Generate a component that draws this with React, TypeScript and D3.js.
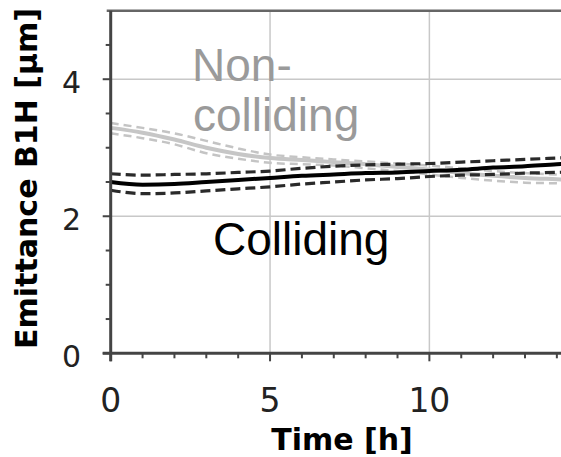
import React from "react";
import * as d3 from "d3";

// ---- data ----
const hours = [0, 1, 2, 3, 4, 5, 6, 7, 8, 9, 10, 11, 12, 13, 14, 14.5];

const collidingMean = [2.5, 2.46, 2.47, 2.5, 2.53, 2.56, 2.59, 2.61, 2.63, 2.64, 2.66, 2.68, 2.71, 2.73, 2.76, 2.77];
const collidingUpper = [2.62, 2.6, 2.61, 2.62, 2.64, 2.66, 2.7, 2.73, 2.75, 2.76, 2.77, 2.79, 2.81, 2.83, 2.85, 2.86];
const collidingLower = [2.38, 2.33, 2.34, 2.37, 2.4, 2.43, 2.47, 2.5, 2.53, 2.55, 2.58, 2.6, 2.61, 2.63, 2.64, 2.65];

const nonCollidingMean = [3.29, 3.22, 3.12, 3.0, 2.91, 2.85, 2.82, 2.79, 2.76, 2.72, 2.68, 2.63, 2.59, 2.56, 2.54, 2.53];
const nonCollidingUpper = [3.36, 3.29, 3.21, 3.1, 2.99, 2.9, 2.86, 2.83, 2.8, 2.77, 2.74, 2.7, 2.66, 2.63, 2.61, 2.6];
const nonCollidingLower = [3.21, 3.14, 3.05, 2.92, 2.84, 2.78, 2.76, 2.74, 2.7, 2.66, 2.61, 2.56, 2.52, 2.49, 2.48, 2.47];

const xTicks = [0, 5, 10];
const xMinorTicks = [1, 2, 3, 4, 6, 7, 8, 9, 11, 12, 13, 14];
const yTicks = [0, 2, 4];
const yMinorTicks = [0.5, 1, 1.5, 2.5, 3, 3.5, 4.5];

const W = 561;
const H = 457;

export default function App() {
  const x = d3.scaleLinear().domain([0, 14.13]).range([110.7, 561]);
  const y = d3.scaleLinear().domain([0, 5]).range([353.3, 10.7]);

  const mk = (vals: number[]) =>
    d3
      .line<number>()
      .x((_, i) => x(hours[i]))
      .y((v) => y(v))
      .curve(d3.curveMonotoneX)(vals) as string;

  const x0 = x(0);
  const y0 = y(0);
  const yTop = y(5);

  return (
    <svg
      width={W}
      height={H}
      style={{ position: "absolute", left: 0, top: 0, background: "#fff" }}
      fontFamily="'DejaVu Sans', sans-serif"
    >
      <defs>
        <clipPath id="plot">
          <rect x={x0} y={yTop} width={W - x0} height={y0 - yTop} />
        </clipPath>
      </defs>
      <rect x={0} y={0} width={W} height={H} fill="#fff" />

      {/* grid */}
      {xTicks.filter((t) => t > 0).map((t) => (
        <line key={"gx" + t} x1={x(t)} x2={x(t)} y1={yTop} y2={y0} stroke="#c8c8c8" strokeWidth={1.5} />
      ))}
      {yTicks.filter((t) => t > 0).map((t) => (
        <line key={"gy" + t} x1={x0} x2={W} y1={y(t)} y2={y(t)} stroke="#c8c8c8" strokeWidth={1.5} />
      ))}

      {/* annotations (behind lines) */}
      <text x={192} y={81} fontFamily="'Liberation Sans', Arial, sans-serif" fontSize={46} fill="#9a9a9a">
        Non-
      </text>
      <text x={193} y={131} fontFamily="'Liberation Sans', Arial, sans-serif" fontSize={46} fill="#9a9a9a">
        colliding
      </text>

      <g clipPath="url(#plot)" fill="none">
        <path d={mk(nonCollidingUpper)} stroke="#c4c4c4" strokeWidth={2.5} strokeDasharray="8,5" />
        <path d={mk(nonCollidingLower)} stroke="#c4c4c4" strokeWidth={2.5} strokeDasharray="8,5" />
        <path d={mk(nonCollidingMean)} stroke="#c6c6c6" strokeWidth={4} />
        <path d={mk(collidingUpper)} stroke="#2a2a2a" strokeWidth={3.2} strokeDasharray="10,5" />
        <path d={mk(collidingLower)} stroke="#2a2a2a" strokeWidth={3.2} strokeDasharray="10,5" />
        <path d={mk(collidingMean)} stroke="#000" strokeWidth={4} />
      </g>

      <text x={213} y={255} fontFamily="'Liberation Sans', Arial, sans-serif" fontSize={46} fill="#000">
        Colliding
      </text>

      {/* frame */}
      <line x1={x0 - 4} x2={W} y1={yTop} y2={yTop} stroke="#666" strokeWidth={2.5} />
      <line x1={x0} x2={x0} y1={yTop} y2={y0 + 8} stroke="#444" strokeWidth={3} />
      <line x1={x0 - 8} x2={W} y1={y0} y2={y0} stroke="#444" strokeWidth={3} />

      {/* x ticks */}
      {xTicks.map((t) => (
        <line key={"xt" + t} x1={x(t)} x2={x(t)} y1={y0} y2={y0 + 8} stroke="#444" strokeWidth={2} />
      ))}
      {xMinorTicks.map((t) => (
        <line key={"xm" + t} x1={x(t)} x2={x(t)} y1={y0} y2={y0 + 5} stroke="#444" strokeWidth={2} />
      ))}
      {xTicks.map((t) => (
        <text key={"xl" + t} x={x(t)} y={411.5} textAnchor="middle" fontSize={33} fill="#222">
          {t}
        </text>
      ))}

      {/* y ticks */}
      {yTicks.map((t) => (
        <line key={"yt" + t} x1={x0 - 8} x2={x0} y1={y(t)} y2={y(t)} stroke="#444" strokeWidth={2} />
      ))}
      {yMinorTicks.map((t) => (
        <line key={"ym" + t} x1={x0 - 5} x2={x0} y1={y(t)} y2={y(t)} stroke="#444" strokeWidth={2} />
      ))}
      {yTicks.map((t) => (
        <text key={"yl" + t} x={81} y={y(t) + 14} textAnchor="end" fontSize={30} fill="#222">
          {t}
        </text>
      ))}

      {/* axis titles */}
      <text x={342} y={450} textAnchor="middle" fontSize={30} fontWeight="bold" fill="#000">
        Time [h]
      </text>
      <text
        transform="translate(37,178.5) rotate(-90)"
        textAnchor="middle"
        fontSize={30}
        fontWeight="bold"
        fill="#000"
      >
        Emittance B1H [µm]
      </text>
    </svg>
  );
}
